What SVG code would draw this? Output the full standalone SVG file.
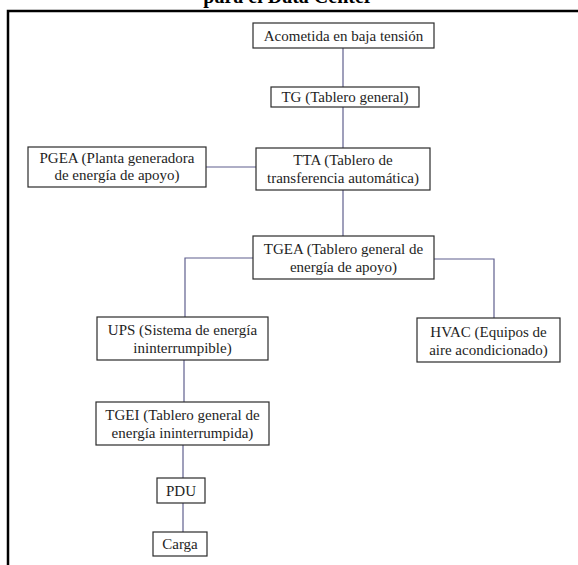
<svg xmlns="http://www.w3.org/2000/svg" width="578" height="565" viewBox="0 0 578 565">
  <style>
    .box { fill: #ffffff; stroke: #2b2b2b; stroke-width: 1.2; }
    .lbl { font-family: "Liberation Serif", "Times New Roman", serif; font-size: 15px; fill: #1e1e1e; text-anchor: middle; }
    .title { font-family: "Liberation Serif", "Times New Roman", serif; font-size: 20px; font-weight: bold; fill: #000; text-anchor: middle; }
    .wire { fill: none; stroke: #5f5f8e; stroke-width: 1.2; }
    .frame { fill: none; stroke: #000; stroke-width: 2.5; }
  </style>
  <rect width="578" height="565" fill="#ffffff"/>

  <!-- heading, cut by the top edge -->
  <text class="title" x="288" y="3">para el Data Center</text>

  <!-- page frame -->
  <path class="frame" d="M8,566 V11 H580"/>

  <!-- connectors -->
  <g id="connectors">
    <path class="wire" d="M343,48 V87"/>
    <path class="wire" d="M343,107 V148"/>
    <path class="wire" d="M206,167 H256"/>
    <path class="wire" d="M343,190 V236"/>
    <path class="wire" d="M253,258 H185 V317"/>
    <path class="wire" d="M434,259 H494 V318"/>
    <path class="wire" d="M184,360 V402"/>
    <path class="wire" d="M183,445 V478"/>
    <path class="wire" d="M183,503 V532"/>
  </g>

  <g id="acometida">
    <rect class="box" x="253" y="23" width="181" height="25"/>
    <text class="lbl" x="343.5" y="41">Acometida en baja tensión</text>
  </g>

  <g id="tg">
    <rect class="box" x="271" y="87" width="148" height="20"/>
    <text class="lbl" x="345" y="102">TG (Tablero general)</text>
  </g>

  <g id="pgea">
    <rect class="box" x="28" y="147" width="178" height="40"/>
    <text class="lbl" x="117" y="163">PGEA (Planta generadora</text>
    <text class="lbl" x="117" y="180">de energía de apoyo)</text>
  </g>

  <g id="tta">
    <rect class="box" x="256" y="148" width="174" height="42"/>
    <text class="lbl" x="343" y="165">TTA (Tablero de</text>
    <text class="lbl" x="343" y="183">transferencia automática)</text>
  </g>

  <g id="tgea">
    <rect class="box" x="253" y="236" width="181" height="43"/>
    <text class="lbl" x="343.5" y="254">TGEA (Tablero general de</text>
    <text class="lbl" x="343.5" y="272">energía de apoyo)</text>
  </g>

  <g id="ups">
    <rect class="box" x="97" y="317" width="171" height="43"/>
    <text class="lbl" x="182.5" y="335">UPS (Sistema de energía</text>
    <text class="lbl" x="182.5" y="353">ininterrumpible)</text>
  </g>

  <g id="hvac">
    <rect class="box" x="417" y="318" width="143" height="44"/>
    <text class="lbl" x="488.5" y="337">HVAC (Equipos de</text>
    <text class="lbl" x="488.5" y="355">aire acondicionado)</text>
  </g>

  <g id="tgei">
    <rect class="box" x="96" y="402" width="173" height="43"/>
    <text class="lbl" x="182.5" y="420">TGEI (Tablero general de</text>
    <text class="lbl" x="182.5" y="438">energía ininterrumpida)</text>
  </g>

  <g id="pdu">
    <rect class="box" x="157" y="478" width="48" height="25"/>
    <text class="lbl" x="181" y="496">PDU</text>
  </g>

  <g id="carga">
    <rect class="box" x="153" y="532" width="54" height="24"/>
    <text class="lbl" x="180" y="549">Carga</text>
  </g>
</svg>
